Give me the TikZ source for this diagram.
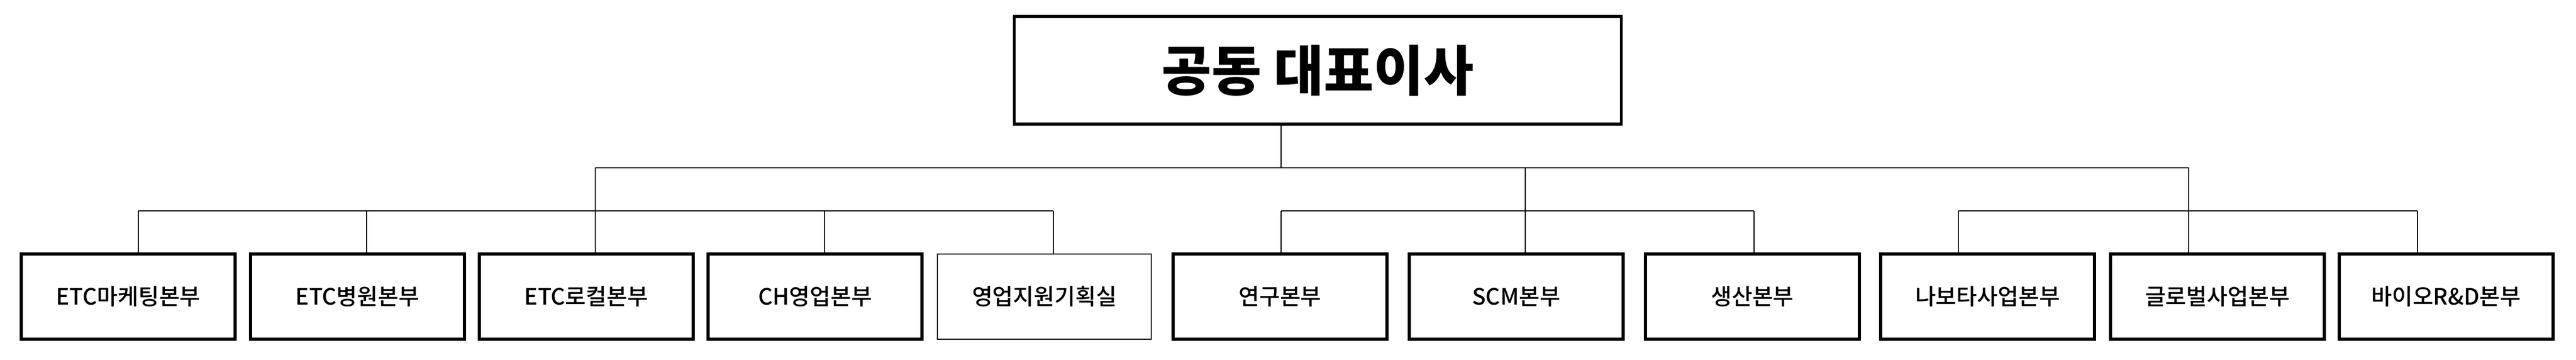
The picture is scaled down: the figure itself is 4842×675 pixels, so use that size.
\documentclass[tikz,border=0pt]{standalone}
\usepackage{fontspec}
\setmainfont{Noto Sans CJK KR}
\newfontfamily\deptfont{Noto Sans CJK KR Medium}
\begin{document}
\begin{tikzpicture}[
            x=0.01cm, y=-0.01cm,
            dept/.style={draw, line width=1.6pt, minimum width=4.02cm, minimum height=1.6cm, font=\deptfont\fontsize{12}{14}\selectfont},
            office/.style={dept, line width=0.6pt},
            ceo/.style={draw, line width=1.5pt, minimum width=11.4cm, minimum height=2.02cm, font=\fontsize{29}{32}\selectfont\bfseries},
            link/.style={line width=0.8pt}
            ]
            \useasboundingbox (0,0) rectangle (4842,675);
            \node[ceo] (ceo) at (2477,132) {공동 대표이사};
            % departments
            \node[dept] (d1) at (241,557) {ETC마케팅본부};
            \node[dept] (d2) at (672,557) {ETC병원본부};
            \node[dept] (d3) at (1102,557) {ETC로컬본부};
            \node[dept] (d4) at (1532,557) {CH영업본부};
            \node[office] (d5) at (1963,557) {영업지원기획실};
            \node[dept] (d6) at (2406,557) {연구본부};
            \node[dept] (d7) at (2850,557) {SCM본부};
            \node[dept] (d8) at (3294,557) {생산본부};
            \node[dept] (d9) at (3736,557) {나보타사업본부};
            \node[dept] (d10) at (4168,557) {글로벌사업본부};
            \node[dept] (d11) at (4598,557) {바이오R\&D본부};
            % buses
            \coordinate (top) at (2408,315);
            \coordinate (ga) at (1119,315);
            \coordinate (gb) at (2867,315);
            \coordinate (gc) at (4114,315);
            \draw[link] (top |- ceo.south) -- (top);
            \draw[link] (ga) -- (gc);
            \draw[link] (ga) -- (1119,396) (gb) -- (2867,396) (gc) -- (4114,396);
            \draw[link] (260,396) -- (1980,396);
            \draw[link] (2408,396) -- (3297,396);
            \draw[link] (3681,396) -- (4544,396);
            % drops
            \foreach \px/\n in {260/d1, 689/d2, 1119/d3, 1550/d4, 1980/d5, 2408/d6, 2867/d7, 3297/d8, 3681/d9, 4114/d10, 4544/d11}
                \draw[link] (\px,396) -- (\px,396 |- \n.north);
\end{tikzpicture}
\end{document}
